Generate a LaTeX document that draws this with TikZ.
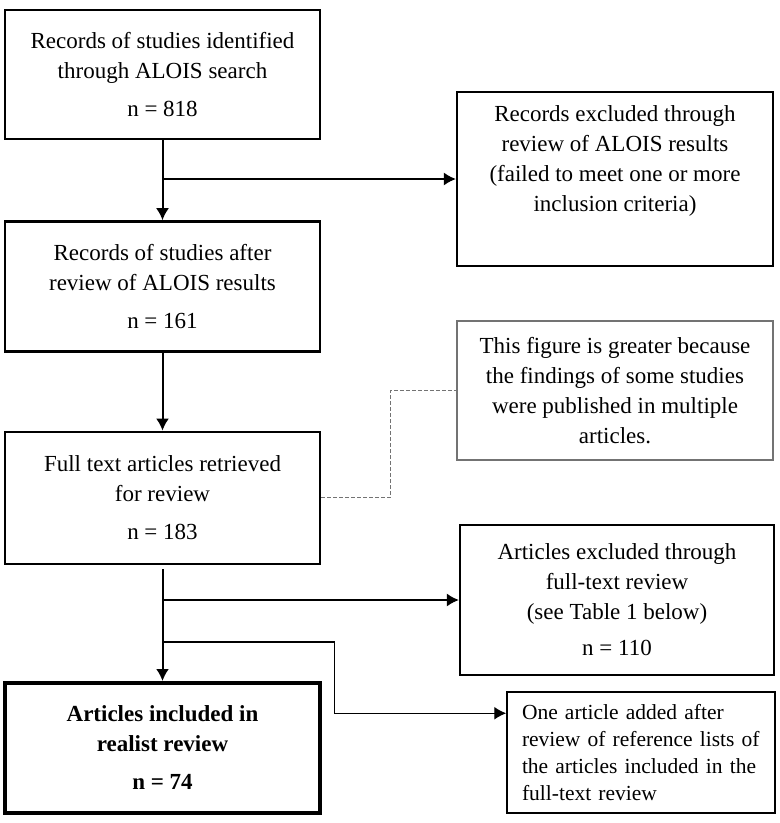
\documentclass[tikz,border=0pt]{standalone}
\usepackage{fontspec}
\setmainfont{Liberation Serif}
\usetikzlibrary{positioning,arrows.meta}
\tikzset{stage/.style = {draw, rectangle, line width=2.4pt, minimum width=315pt, inner sep=0pt, align=center, font=\fontsize{23}{30}\selectfont}}
\tikzset{final/.style = {stage, line width=4pt, font=\bfseries\fontsize{23}{30}\selectfont}}
\tikzset{note/.style = {stage, draw=black!55, line width=2pt}}
\tikzset{added/.style = {draw, rectangle, line width=1.5pt, minimum width=268pt, minimum height=121pt, inner xsep=15pt, text width=238pt, align=left, font=\fontsize{21.5}{27}\selectfont}}
\tikzset{branch/.style = {line width=1.3pt}}

\begin{document}
\begin{tikzpicture}[x=1pt, y=-1pt, >={Latex[length=12pt,width=13pt]}, line width=2pt]
  \useasboundingbox (0,0) rectangle (780,823);
  \node [stage, minimum height=129pt] (alois) at (162.5,74.5) {Records of studies identified\\through ALOIS search\\[8pt]n = 818};
  \node [stage, minimum height=130pt, below=80pt of alois] (screened) {Records of studies after\\review of ALOIS results\\[8pt]n = 161};
  \node [stage, minimum height=132pt, below=78pt of screened] (fulltext) {Full text articles retrieved\\for review\\[8pt]n = 183};
  \node [final, minimum height=130pt, below=116pt of fulltext] (included) {Articles included in\\realist review\\[8pt]n = 74};

  \node [stage, minimum width=316pt, minimum height=174pt] (recexcl) at (615,179) {Records excluded through\\review of ALOIS results\\(failed to meet one or more\\inclusion criteria)\\[10pt]\mbox{}};
  \node [note, minimum width=316pt, minimum height=139pt] (greater) at (615,390.5) {This figure is greater because\\the findings of some studies\\were published in multiple\\articles.};
  \node [stage, minimum width=314pt, minimum height=150pt] (artexcl) at (617,600) {Articles excluded through\\full-text review\\(see Table 1 below)\\[6pt]n = 110};
  \node [added] (oneadded) at (641,752.5) {One article added after review of reference lists of the articles included in the full-text review};

  \draw[->] (alois) -- (screened);
  \draw[->, branch] (alois.south |- recexcl.west) -- (recexcl.west);
  \draw[->] (screened) -- (fulltext);
  \draw[draw=black!55, line width=1pt, dash pattern=on 4pt off 2pt] (fulltext.east) -- ++(69,0) |- (greater.west);
  \draw[->, shorten <=4pt] (fulltext) -- (included);
  \draw[->, branch] (fulltext.south |- artexcl.west) -- (artexcl.west);
  \draw[->, branch] (fulltext.south) ++(0,77) -- ++(172,0) |- ([yshift=-22pt]oneadded.north west);
\end{tikzpicture}
\end{document}
